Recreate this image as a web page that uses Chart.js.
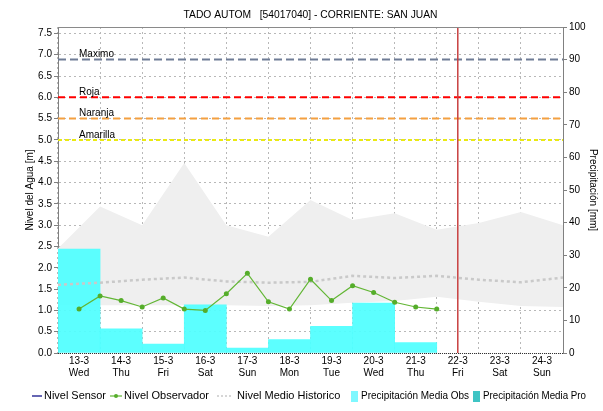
<!DOCTYPE html>
<html>
<head>
<meta charset="utf-8">
<script src="https://cdn.jsdelivr.net/npm/chart.js@4.4.1/dist/chart.umd.min.js"></script>
<style>
  html, body { margin: 0; padding: 0; background: #fff; }
</style>
</head>
<body>
<canvas id="grafico" width="603" height="411"></canvas>
<script>
// Datos.
const titulo = 'TADO AUTOM   [54017040] - CORRIENTE: SAN JUAN';
const dias = ['13-3', '14-3', '15-3', '16-3', '17-3', '18-3', '19-3', '20-3', '21-3', '22-3', '23-3', '24-3'];
const diasSemana = ['Wed', 'Thu', 'Fri', 'Sat', 'Sun', 'Mon', 'Tue', 'Wed', 'Thu', 'Fri', 'Sat', 'Sun'];
const ticksNivel = [0, 0.5, 1, 1.5, 2, 2.5, 3, 3.5, 4, 4.5, 5, 5.5, 6, 6.5, 7, 7.5];

// Precipitación media observada [mm], una barra por día
const precipObs = [31.9, 7.4, 2.7, 14.8, 1.5, 4.1, 8.2, 15.3, 3.2];
// Nivel observador [m], una lectura cada 12 h desde el 13-3
const horasObs = [0, 0.5, 1, 1.5, 2, 2.5, 3, 3.5, 4, 4.5, 5, 5.5, 6, 6.5, 7, 7.5, 8, 8.5];
const nivelObservador = [1.03, 1.34, 1.23, 1.08, 1.29, 1.03, 1.0, 1.39, 1.87, 1.2, 1.03, 1.73, 1.23, 1.58, 1.42, 1.19, 1.08, 1.03];
// Nivel medio histórico y su banda [m], en cada cambio de día
const cortesDia = [-0.5, 0.5, 1.5, 2.5, 3.5, 4.5, 5.5, 6.5, 7.5, 8.5, 9.5, 10.5, 11.5];
const nivelMedio = [1.6, 1.65, 1.72, 1.77, 1.68, 1.65, 1.67, 1.81, 1.76, 1.81, 1.72, 1.66, 1.77];
const bandaMax = [2.45, 3.44, 3.0, 4.46, 3.0, 2.73, 3.59, 3.12, 3.28, 2.89, 3.05, 3.31, 3.0];
const bandaMin = [1.12, 1.12, 1.12, 1.12, 1.12, 1.1, 1.12, 1.18, 1.22, 1.32, 1.2, 1.1, 1.08];
// Umbrales de alerta [m]
const umbralNombres = ['Maximo', 'Roja', 'Naranja', 'Amarilla'];
const umbralValores = [6.89, 6.0, 5.5, 5.0];
const hoy = 9; // 22-3

const NIVEL_MAX = 7.65;
const X_MIN = -0.5, X_MAX = 11.5;
const FUENTE = '"Liberation Sans", Arial, sans-serif';

const estiloUmbral = {
  Maximo:   { color: '#6f7c96', dash: [8, 4] },
  Roja:     { color: '#ff0000', dash: [7, 4] },
  Naranja:  { color: '#f4a040', dash: [7, 4] },
  Amarilla: { color: '#eaea10', dash: [4, 3] },
};

Chart.defaults.font.family = FUENTE;
Chart.defaults.color = '#000';

const puntos = (xs, ys) => xs.map((x, i) => ({ x, y: ys[i] }));

const datasets = [
  {
    label: 'Nivel Sensor', type: 'line', data: [], order: 0,
    borderColor: '#000080', borderWidth: 1, pointRadius: 0,
  },
  {
    label: 'Nivel Observador', type: 'line', order: 1,
    data: puntos(horasObs, nivelObservador),
    borderColor: '#62b634', borderWidth: 1.2,
    pointRadius: 2.5, pointBackgroundColor: '#55ad2a', pointBorderWidth: 0,
  },
  {
    label: 'hoy', type: 'line', order: 2,
    data: [{ x: hoy, y: 0 }, { x: hoy, y: NIVEL_MAX }],
    borderColor: '#c84040', borderWidth: 1.5, pointRadius: 0,
  },
  ...umbralNombres.map((n, i) => ({
    label: n, type: 'line', order: 3,
    data: [{ x: X_MIN, y: umbralValores[i] }, { x: X_MAX, y: umbralValores[i] }],
    borderColor: estiloUmbral[n].color, borderDash: estiloUmbral[n].dash,
    borderWidth: 2, pointRadius: 0,
  })),
  {
    label: 'Nivel Medio Historico', type: 'line', order: 4,
    data: puntos(cortesDia, nivelMedio),
    borderColor: '#c9c9c9', borderWidth: 2.5, borderDash: [3, 3], pointRadius: 0,
  },
  {
    label: 'Precipitación Media Obs', type: 'bar', order: 5, yAxisID: 'y2',
    data: puntos(precipObs.map((_, i) => i), precipObs),
    backgroundColor: 'rgba(80,255,255,0.93)', borderWidth: 0,
    barPercentage: 1, categoryPercentage: 1,
  },
  {
    label: 'banda min', type: 'line', order: 7,
    data: puntos(cortesDia, bandaMin),
    borderWidth: 0, borderColor: 'rgba(0,0,0,0)', pointRadius: 0, fill: false,
  },
  {
    label: 'banda max', type: 'line', order: 6,
    data: puntos(cortesDia, bandaMax),
    borderWidth: 0, borderColor: 'rgba(0,0,0,0)', pointRadius: 0,
    fill: '-1', backgroundColor: '#efefef',
  },
];

// Título, nombres de umbrales, marco y leyenda dibujados sobre el canvas
const extras = {
  id: 'extras',
  afterDraw(chart) {
    const { ctx, chartArea: a, scales } = chart;
    ctx.save();
    ctx.lineWidth = 1;
    ctx.strokeStyle = '#8a8a8a';
    ctx.beginPath(); ctx.moveTo(a.left, a.top + 0.5); ctx.lineTo(a.right, a.top + 0.5); ctx.stroke();
    ctx.strokeStyle = '#333';
    ctx.setLineDash([1, 1]);
    ctx.beginPath(); ctx.moveTo(a.left, a.bottom + 0.5); ctx.lineTo(a.right, a.bottom + 0.5); ctx.stroke();
    ctx.setLineDash([]);

    ctx.fillStyle = '#000';
    ctx.textBaseline = 'middle';
    ctx.textAlign = 'center';
    ctx.font = '11px ' + FUENTE;
    ctx.fillText(titulo, (a.left + a.right) / 2, 15, 254);

    ctx.textAlign = 'left';
    ctx.font = '10px ' + FUENTE;
    umbralNombres.forEach((n, i) => {
      ctx.fillText(n, a.left + 21, scales.y.getPixelForValue(umbralValores[i]) - 5);
    });

    // leyenda
    const y = 396;
    ctx.font = '11px ' + FUENTE;
    ctx.strokeStyle = '#000080'; ctx.lineWidth = 1.2;
    ctx.beginPath(); ctx.moveTo(32, y); ctx.lineTo(42, y); ctx.stroke();
    ctx.fillText('Nivel Sensor', 44, y, 62);
    ctx.strokeStyle = '#62b634';
    ctx.beginPath(); ctx.moveTo(110, y); ctx.lineTo(122, y); ctx.stroke();
    ctx.fillStyle = '#55ad2a';
    ctx.beginPath(); ctx.arc(116, y, 2, 0, Math.PI * 2); ctx.fill();
    ctx.fillStyle = '#000';
    ctx.fillText('Nivel Observador', 124, y, 89);
    ctx.strokeStyle = '#c9c9c9'; ctx.lineWidth = 1.5; ctx.setLineDash([2, 2]);
    ctx.beginPath(); ctx.moveTo(217, y); ctx.lineTo(232, y); ctx.stroke();
    ctx.setLineDash([]);
    ctx.fillText('Nivel Medio Historico', 237, y, 110);
    ctx.fillStyle = '#7ff8ff'; ctx.fillRect(351, y - 5, 7, 11);
    ctx.fillStyle = '#000'; ctx.fillText('Precipitación Media Obs', 361, y, 108);
    ctx.fillStyle = '#3fc4c4'; ctx.fillRect(473, y - 5, 7, 11);
    ctx.fillStyle = '#000'; ctx.fillText('Precipitación Media Pro', 483, y, 103);
    ctx.restore();
  },
};

new Chart(document.getElementById('grafico'), {
  type: 'line',
  data: { datasets },
  plugins: [extras],
  options: {
    responsive: false,
    devicePixelRatio: 1,
    animation: false,
    layout: { padding: { top: 27, bottom: 28, left: 0, right: 0 } },
    plugins: { legend: { display: false }, tooltip: { enabled: false }, title: { display: false } },
    scales: {
      x: {
        type: 'linear', min: X_MIN, max: X_MAX, offset: false,
        afterBuildTicks: (s) => { s.ticks = dias.map((_, i) => ({ value: i })); },
        afterFit: (s) => { s.height = 30; },
        ticks: {
          autoSkip: false, maxRotation: 0, padding: 2,
          font: { size: 10 },
          callback: (v) => [dias[v], diasSemana[v]],
        },
        grid: { color: '#b8b8b8', drawTicks: false, borderDash: [2, 3] },
        border: { display: false, dash: [2, 3] },
      },
      y: {
        position: 'left', min: 0, max: NIVEL_MAX,
        afterBuildTicks: (s) => { s.ticks = ticksNivel.map((v) => ({ value: v })); },
        afterFit: (s) => { s.width = 58; },
        ticks: { font: { size: 10 }, padding: 2, callback: (v) => v.toFixed(1) },
        grid: { color: '#b8b8b8', tickLength: 4, tickColor: '#808080', borderDash: [2, 3], tickBorderDash: [] },
        border: { color: '#808080', dash: [2, 3] },
        title: { display: true, text: 'Nivel del Agua [m]', font: { size: 10 }, padding: { top: 24, bottom: 0 } },
      },
      y2: {
        position: 'right', min: 0, max: 100,
        afterFit: (s) => { s.width = 40; },
        ticks: { stepSize: 10, font: { size: 10 }, padding: 2 },
        grid: { drawOnChartArea: false, tickLength: 4, tickColor: '#808080', color: '#808080' },
        border: { color: '#808080' },
        title: { display: true, text: 'Precipitación [mm]', font: { size: 10 }, padding: { top: 4, bottom: 0 } },
      },
    },
  },
});
</script>
</body>
</html>
